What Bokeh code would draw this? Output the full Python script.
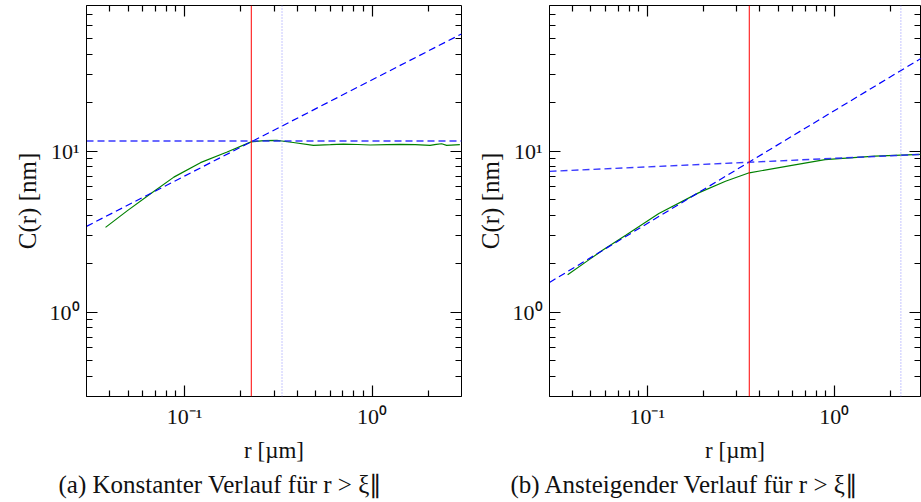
import math
from bokeh.plotting import figure
from bokeh.models import Range1d, FixedTicker, Span, Title, CustomJSTickFormatter, LogAxis
from bokeh.layouts import row
from bokeh.embed import file_html
from bokeh.resources import INLINE

# ---------------- data ----------------
# panel (a): constant behaviour for r > xi
r_a = [0.0379, 0.0496, 0.0659, 0.0877, 0.1216, 0.1687, 0.2265, 0.265, 0.311, 0.38, 0.487, 0.6, 0.703, 0.84, 0.976, 1.2, 1.41, 1.7, 2.04, 2.2, 2.35, 2.5, 2.94]
C_a = [3.36, 4.27, 5.43, 6.89, 8.47, 9.86, 11.4, 11.6, 11.66, 11.3, 10.85, 10.95, 11.05, 10.98, 10.9, 10.95, 11.0, 10.95, 10.85, 11.0, 11.1, 10.85, 10.95]
fit_pow_a_r = [0.03, 3.0]
fit_pow_a_C = [3.41, 53.3]
fit_const_a_r = [0.03, 3.0]
fit_const_a_C = [11.54, 11.54]
xi_a = 0.227
xi2_a = 0.331

# panel (b): rising behaviour for r > xi
r_b = [0.0375, 0.0489, 0.0576, 0.0767, 0.1153, 0.188, 0.262, 0.351, 0.593, 0.892, 1.65, 2.89]
C_b = [1.71, 2.12, 2.42, 3.0, 4.1, 5.5, 6.5, 7.33, 8.14, 8.84, 9.3, 9.53]
fit_pow_b_r = [0.03, 3.0]
fit_pow_b_C = [1.53, 38.4]
fit_const_b_r = [0.03, 3.0]
fit_const_b_C = [7.48, 9.55]
xi_b = 0.351
xi2_b = 2.27

# axis ranges and ticks
x_start = 0.03
x_end_a = 3.0
x_end_b = 2.89
y_start = 0.3
y_end = 80.0
x_major = [0.1, 1.0]
x_minor = [0.04, 0.05, 0.06, 0.07, 0.08, 0.09, 0.2, 0.3, 0.4, 0.5, 0.6, 0.7, 0.8, 0.9, 2.0]
y_major = [1.0, 10.0]
y_minor = [0.4, 0.5, 0.6, 0.7, 0.8, 0.9, 2, 3, 4, 5, 6, 7, 8, 9, 20, 30, 40, 50, 60, 70]

captions = ["(a) Konstanter Verlauf für r > ξ∥", "(b) Ansteigender Verlauf für r > ξ∥"]
x_label = "r [µm]"
y_label = "C(r) [nm]"

FONT = "Liberation Serif"
TXT = "#111111"

fmt_code = """
const e = Math.round(Math.log10(tick));
const sup = {'-':'\u207b','0':'\u2070','1':'\u00b9','2':'\u00b2','3':'\u00b3','4':'\u2074','5':'\u2075','6':'\u2076','7':'\u2077','8':'\u2078','9':'\u2079'};
return '10' + String(e).split('').map(c => sup[c]).join('');
"""

MAJOR_LEN = 11   # tick length, px
MINOR_LEN = 6


def style_axis(ax, label_size):
    ax.major_tick_in = 0
    ax.major_tick_out = 0
    ax.minor_tick_in = 0
    ax.minor_tick_out = 0
    ax.axis_line_color = "black"
    ax.major_label_text_font = FONT
    ax.major_label_text_font_size = "22px"
    ax.major_label_text_color = TXT
    ax.major_label_standoff = 7
    ax.axis_label_text_font = FONT
    ax.axis_label_text_font_size = label_size
    ax.axis_label_text_font_style = "normal"
    ax.axis_label_text_color = TXT
    ax.axis_label_standoff = 6


def tick_axis(ticker, loc):
    # an axis pinned to the opposite frame edge: its outward ticks point into the frame
    ax = LogAxis(ticker=ticker, fixed_location=loc,
                 formatter=CustomJSTickFormatter(code="return '';"))
    ax.axis_line_color = None
    ax.major_tick_out = MAJOR_LEN
    ax.major_tick_in = 0
    ax.minor_tick_out = MINOR_LEN
    ax.minor_tick_in = 0
    ax.major_tick_line_color = "black"
    ax.minor_tick_line_color = "black"
    ax.major_tick_line_width = 1.2
    ax.minor_tick_line_width = 1.2
    ax.major_label_standoff = 0
    return ax


def make_panel(width, x_end, r, C, pr, pC, cr, cC, xi, xi2, caption, border_right, cap_offset):
    p = figure(width=width, height=502, x_axis_type="log", y_axis_type="log",
               x_range=Range1d(x_start, x_end), y_range=Range1d(y_start, y_end),
               output_backend="svg", toolbar_location=None,
               min_border_left=86, min_border_right=border_right,
               min_border_top=5, min_border_bottom=106)
    p.grid.visible = False
    p.outline_line_color = "black"
    p.background_fill_color = "white"
    p.border_fill_color = "white"

    fmt = CustomJSTickFormatter(code=fmt_code)
    xt = FixedTicker(ticks=x_major, minor_ticks=x_minor)
    yt = FixedTicker(ticks=y_major, minor_ticks=y_minor)
    p.xaxis.ticker = xt
    p.yaxis.ticker = yt
    p.xaxis.formatter = fmt
    p.yaxis.formatter = fmt
    p.xaxis.axis_label = x_label
    p.yaxis.axis_label = y_label
    for ax in p.xaxis:
        style_axis(ax, "23px")
    for ax in p.yaxis:
        style_axis(ax, "25px")

    p.line(r, C, line_color="#008000", line_width=1.2)
    p.line(pr, pC, line_color="#0000ff", line_width=1.2, line_dash="7 4")
    p.line(cr, cC, line_color="#2424ff", line_width=1.4, line_dash="7 4", line_alpha=0.9)

    # inward ticks on all four frame edges
    p.add_layout(tick_axis(xt, y_start), "above")   # bottom edge, ticks point up
    p.add_layout(tick_axis(xt, y_end), "below")     # top edge, ticks point down
    p.add_layout(tick_axis(yt, x_start), "right")   # left edge, ticks point right
    p.add_layout(tick_axis(yt, x_end), "left")      # right edge, ticks point left

    p.add_layout(Span(location=xi, dimension="height", line_color="#ff0000", line_width=1))
    p.add_layout(Span(location=xi2, dimension="height", line_color="#8c8cff",
                      line_width=1, line_dash="1 2"))

    p.add_layout(Title(text=caption, align="left", text_font=FONT,
                       text_font_size="25px", text_font_style="normal",
                       text_color=TXT, standoff=6, offset=cap_offset), "below")
    return p


pa = make_panel(463, x_end_a, r_a, C_a, fit_pow_a_r, fit_pow_a_C, fit_const_a_r, fit_const_a_C,
                xi_a, xi2_a, captions[0], 2, -28)
pb = make_panel(458, x_end_b, r_b, C_b, fit_pow_b_r, fit_pow_b_C, fit_const_b_r, fit_const_b_C,
                xi_b, xi2_b, captions[1], 1, -39)

layout = row(pa, pb)
open("out.html", "w").write(file_html(layout, INLINE))
